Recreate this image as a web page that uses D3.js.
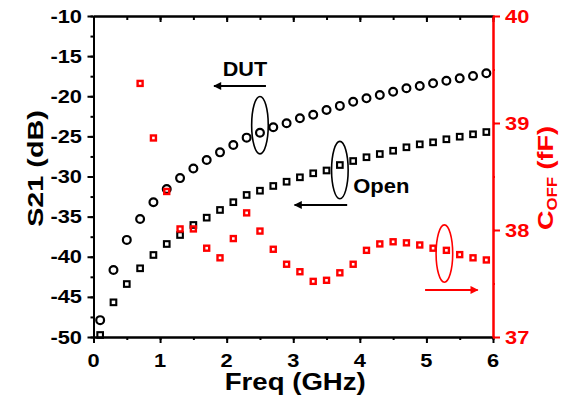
<!DOCTYPE html>
<html><head><meta charset="utf-8">
<script src="https://cdn.jsdelivr.net/npm/d3@7"></script>
<style>html,body{margin:0;padding:0;background:#fff;} svg{display:block;}</style>
</head><body>
<script>
// ---- data ----
const freqS = [0.1,0.3,0.5,0.7,0.9,1.1,1.3,1.5,1.7,1.9,2.1,2.3,2.5,2.7,2.9,3.1,3.3,3.5,3.7,3.9,4.1,4.3,4.5,4.7,4.9,5.1,5.3,5.5,5.7,5.9];
const s21DUT = [-47.9,-41.65,-37.9,-35.3,-33.2,-31.56,-30.2,-29.0,-27.94,-26.99,-26.07,-25.16,-24.54,-23.87,-23.37,-22.75,-22.3,-21.71,-21.2,-20.68,-20.26,-19.84,-19.43,-19.0,-18.72,-18.39,-18.06,-17.77,-17.48,-17.14];
const s21Open = [-49.75,-45.68,-43.4,-41.44,-39.78,-38.41,-37.29,-36.04,-35.13,-34.17,-33.2,-32.3,-31.77,-31.18,-30.65,-30.1,-29.6,-29.25,-28.57,-28.07,-27.6,-27.2,-26.79,-26.36,-25.99,-25.74,-25.36,-25.04,-24.74,-24.46];
const freqC = [0.7,0.9,1.1,1.3,1.5,1.7,1.9,2.1,2.3,2.5,2.7,2.9,3.1,3.3,3.5,3.7,3.9,4.1,4.3,4.5,4.7,4.9,5.1,5.3,5.5,5.7,5.9];
const cOff = [39.37,38.86,38.36,38.01,38.01,37.83,37.74,37.92,38.16,37.99,37.82,37.68,37.61,37.52,37.53,37.60,37.68,37.81,37.87,37.89,37.88,37.86,37.83,37.81,37.77,37.74,37.72];
const xTicks = [0,1,2,3,4,5,6];
const yLeftTicks = [-50,-45,-40,-35,-30,-25,-20,-15,-10];
const yRightTicks = [37,38,39,40];
const xLabel = "Freq (GHz)";
const yLeftLabel = "S21 (dB)";

// ---- layout ----
const W = 576, H = 402;
const L = 93.5, R = 493, T = 16, B = 337;
const RED = "#ff0000";
const FONT = "'Liberation Sans', Arial, sans-serif";

const svg = d3.select("body").append("svg").attr("width", W).attr("height", H)
  .style("font-family", FONT);

const x = d3.scaleLinear().domain([0,6]).range([L,R]);
const yL = d3.scaleLinear().domain([-50,-10]).range([B,T]);
const yR = d3.scaleLinear().domain([37,40]).range([B,T]);

function styleAxis(g, color){
  g.selectAll("path.domain").attr("stroke", color).attr("stroke-width", 2);
  g.selectAll(".tick line").attr("stroke", color).attr("stroke-width", 2);
  g.selectAll("text").remove();
}
const minorX = d3.range(0, 6.01, 0.5);
const minorYL = d3.range(-50, -9.99, 2.5);
const minorYR = d3.range(37, 40.01, 0.5);

// minor ticks
svg.append("g").attr("transform",`translate(0,${B})`).call(d3.axisBottom(x).tickValues(minorX).tickSize(3).tickSizeOuter(0)).call(g=>styleAxis(g,"#000"));
svg.append("g").attr("transform",`translate(0,${T})`).call(d3.axisBottom(x).tickValues(minorX).tickSize(4).tickSizeOuter(0)).call(g=>styleAxis(g,"#000"));
svg.append("g").attr("transform",`translate(${L},0)`).call(d3.axisLeft(yL).tickValues(minorYL).tickSize(3).tickSizeOuter(0)).call(g=>styleAxis(g,"#000"));
// major ticks
svg.append("g").attr("transform",`translate(0,${B})`).call(d3.axisBottom(x).tickValues(xTicks).tickSize(6).tickSizeOuter(0)).call(g=>styleAxis(g,"#000"));
svg.append("g").attr("transform",`translate(0,${T})`).call(d3.axisBottom(x).tickValues(xTicks).tickSize(6).tickSizeOuter(0)).call(g=>styleAxis(g,"#000"));
svg.append("g").attr("transform",`translate(${L},0)`).call(d3.axisLeft(yL).tickValues(yLeftTicks).tickSize(6).tickSizeOuter(0)).call(g=>styleAxis(g,"#000"));
svg.append("g").attr("transform",`translate(${R},0)`).call(d3.axisRight(yR).tickValues(minorYR).tickSize(2).tickSizeOuter(0)).call(g=>styleAxis(g,RED));
svg.append("g").attr("transform",`translate(${R},0)`).call(d3.axisRight(yR).tickValues(yRightTicks).tickSize(7).tickSizeOuter(0)).call(g=>styleAxis(g,RED));

// text helper with horizontal stretch
function txt(str, px, py, size, sx, anchor, color, rot){
  const t = svg.append("text")
    .attr("transform", `translate(${px},${py}) rotate(${rot||0}) scale(${sx},1)`)
    .attr("font-size", size).attr("font-weight","bold")
    .attr("text-anchor", anchor).attr("fill", color||"#000").text(str);
  return t;
}
// tick labels
xTicks.forEach(v => txt(String(v), x(v), 367, 18.5, 1.18, "middle"));
yLeftTicks.forEach(v => txt(String(v), 82, yL(v)+6.6, 18.5, 1.18, "end"));
yRightTicks.forEach(v => txt(String(v), 505, yR(v)+6.6, 18.5, 1.18, "start", RED));

// axis titles
txt(xLabel, (L+R)/2 + 2, 390, 23, 1.2, "middle");
txt(yLeftLabel, 43, 168.5, 22.5, 1.28, "middle", "#000", -90);
{
  const t = svg.append("text")
    .attr("transform", `translate(553,178) rotate(-90) scale(1.2,1)`)
    .attr("font-size", 22.5).attr("font-weight","bold")
    .attr("text-anchor","middle").attr("fill", RED);
  t.append("tspan").text("C");
  t.append("tspan").attr("font-size", 14).attr("dy", 4).text("OFF");
  t.append("tspan").attr("dy", -4).text(" (fF)");
}

// data marks
svg.append("g").selectAll("circle").data(freqS).join("circle")
  .attr("cx", d => x(d)).attr("cy", (d,i) => yL(s21DUT[i])).attr("r", 3.9)
  .attr("fill","none").attr("stroke","#000").attr("stroke-width",2.2);
const sq = 5.6;
svg.append("g").selectAll("rect").data(freqS).join("rect")
  .attr("x", d => x(d)-sq/2).attr("y", (d,i) => yL(s21Open[i])-sq/2).attr("width", sq).attr("height", sq)
  .attr("fill","none").attr("stroke","#000").attr("stroke-width",2.1);
const sqr = 5.0;
svg.append("g").selectAll("rect").data(freqC).join("rect")
  .attr("x", d => x(d)-sqr/2).attr("y", (d,i) => yR(cOff[i])-sqr/2).attr("width", sqr).attr("height", sqr)
  .attr("fill","none").attr("stroke",RED).attr("stroke-width",2.4);

// annotations
const defs = svg.append("defs");
function marker(id, color){
  defs.append("marker").attr("id", id).attr("viewBox","0 0 10 10").attr("refX",9).attr("refY",5)
    .attr("markerWidth",6).attr("markerHeight",4).attr("markerUnits","strokeWidth").attr("orient","auto")
    .append("path").attr("d","M0,0L10,5L0,10z").attr("fill", color);
}
marker("ab","#000"); marker("ar",RED);
function arrow(x1,x2,yy,color,id){
  svg.append("line").attr("x1",x1).attr("x2",x2).attr("y1",yy).attr("y2",yy)
    .attr("stroke",color).attr("stroke-width",2).attr("marker-end",`url(#${id})`);
}
function ell(cx,cy,color){
  svg.append("ellipse").attr("cx",cx).attr("cy",cy).attr("rx",8.3).attr("ry",28.7)
    .attr("fill","none").attr("stroke",color).attr("stroke-width",1.6);
}
ell(x(2.5), yL(-23.6), "#000");
ell(x(3.7), yL(-29.2), "#000");
ell(x(5.27), yR(37.78), RED);
arrow(x(2.59), x(1.81), yL(-18.72), "#000", "ab");
arrow(x(3.81), x(3.02), yL(-33.55), "#000", "ab");
arrow(x(4.98), x(5.77), yR(37.44), RED, "ar");
txt("DUT", x(1.94), yL(-17.48), 21, 1.03, "start");
txt("Open", x(3.9), yL(-32.06), 20, 1.1, "start");
</script>
</body></html>
